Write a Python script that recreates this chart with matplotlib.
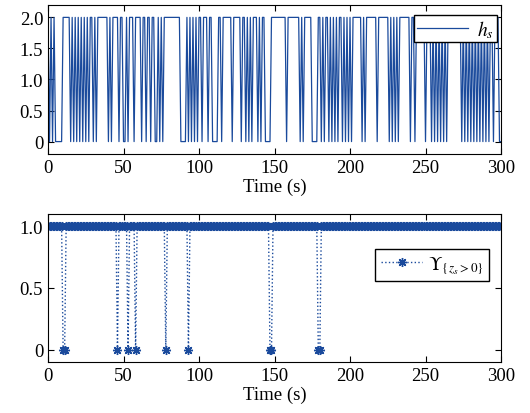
import numpy as np
import matplotlib
matplotlib.use("Agg")
import matplotlib.pyplot as plt

plt.rcParams['font.family'] = ['Liberation Serif', 'DejaVu Serif']
plt.rcParams['mathtext.fontset'] = 'stix'
plt.rcParams['font.size'] = 13.5

h_str = ("2020200000" "2222202020" "2020202022" "0202222222" "0202222022"
         "0020222022" "2202202202" "2002020222" "2222222200" "0020202020"
         "2202220220" "0002202222" "2202222202" "2020202220" "2022000022"
         "2222222202" "2222222020" "2222200002" "2020220202" "0202202020"
         "2022222202" "0222222202" "2222220202" "0202222222" "0220222222"
         "0222020202" "0202022222" "2222020202" "0202020202" "0202202220")
h_s = [int(c) for c in h_str] + [0]
t_h = np.arange(len(h_s))

# indicator of z_s > 0, sampled every second, t = 0..300
t_u = np.arange(301)
zero_times = [10, 11, 46, 53, 58, 78, 93, 147, 148, 179, 180]
ups = np.ones(len(t_u))
ups[zero_times] = 0

blue = '#1a4a9c'

fig = plt.figure(figsize=(5.3, 4.14), dpi=100)
ax1 = fig.add_axes([0.0906, 0.6256, 0.8547, 0.36])
ax2 = fig.add_axes([0.0906, 0.1232, 0.8547, 0.3575])

ax1.plot(t_h, h_s, color=blue, linewidth=0.9, label=r'$h_s$')
ax1.set_xlim(0, 300)
ax1.set_ylim(-0.2, 2.2)
ax1.set_yticks([0, 0.5, 1, 1.5, 2])
ax1.set_yticklabels(['0', '0.5', '1.0', '1.5', '2.0'])
ax1.set_xlabel('Time (s)', labelpad=1)
ax1.legend(loc='upper right', bbox_to_anchor=(0.991, 0.933), borderaxespad=0,
           fancybox=False, edgecolor='black', framealpha=1, handlelength=2.6,
           borderpad=0.15, handletextpad=0.5, fontsize=14)

ax2.plot(t_u, ups, color=blue, linestyle=':', linewidth=1.0,
         marker=(8, 2, 0), markersize=6.5, markeredgewidth=1.0,
         label=r'$\Upsilon_{\{z_s>0\}}$')
ax2.set_xlim(0, 300)
ax2.set_ylim(-0.1, 1.1)
ax2.set_yticks([0, 0.5, 1])
ax2.set_yticklabels(['0', '0.5', '1.0'])
ax2.set_xlabel('Time (s)', labelpad=1)
ax2.legend(loc='upper right', bbox_to_anchor=(0.974, 0.764), borderaxespad=0,
           fancybox=False, edgecolor='black', framealpha=1, handlelength=2.2,
           borderpad=0.3, handletextpad=0.3, fontsize=13.5)

for ax in (ax1, ax2):
    ax.set_xticks([0, 50, 100, 150, 200, 250, 300])
    ax.tick_params(direction='in', top=True, right=True, length=4, width=0.8)
    for sp in ax.spines.values():
        sp.set_linewidth(0.8)

fig.savefig('out.png', dpi=100)
